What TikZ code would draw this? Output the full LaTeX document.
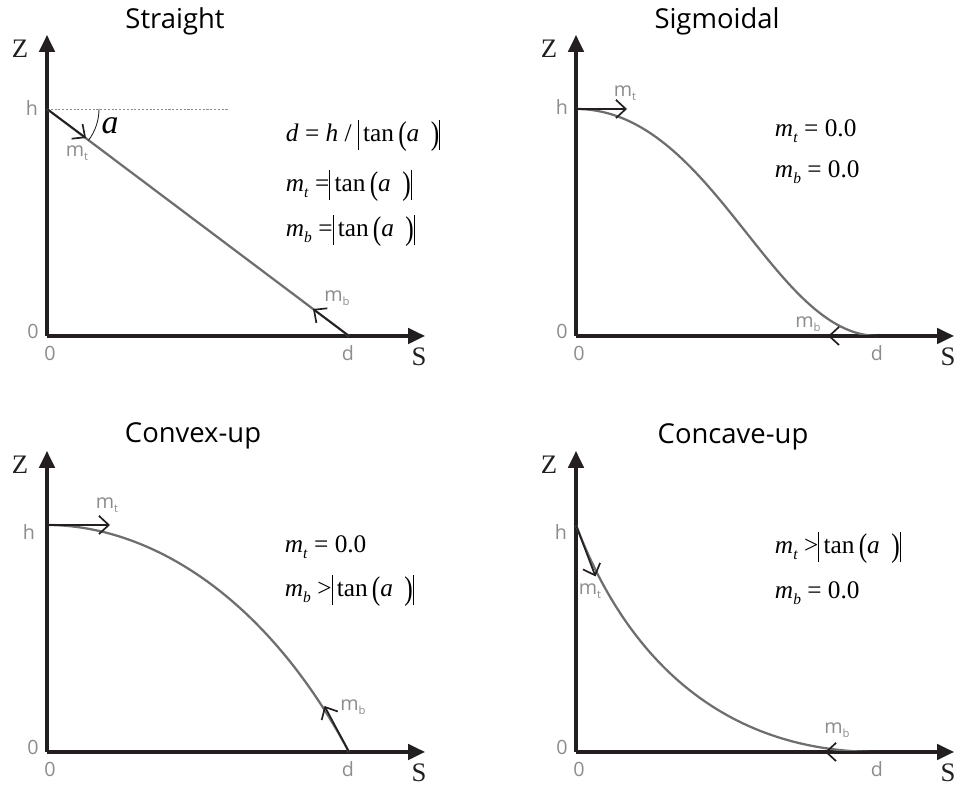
\documentclass[tikz,border=0pt]{standalone}
\usepackage{fontspec}
\usepackage{graphicx}
\setmainfont{Open Sans}
\newfontfamily\eqfont{Liberation Serif}
\usetikzlibrary{arrows.meta}

\definecolor{axiscol}{RGB}{35,31,32}
\definecolor{curvecol}{RGB}{110,110,110}
\definecolor{labelcol}{RGB}{140,140,140}

% 数式用の部品
\newcommand{\absbar}{\rule[-5.5pt]{0.7pt}{21pt}}
\newcommand{\lpar}{\raisebox{-1.5pt}{\scalebox{1}[1.3]{(}}}
\newcommand{\rpar}{\raisebox{-1.5pt}{\scalebox{1}[1.3]{)}}}
\newcommand{\abstan}{\absbar\,tan\,\lpar\textit{a}\hspace{0.45em}\rpar\absbar}
\newcommand{\mvar}[1]{\textit{m}\raisebox{-4pt}{\fontsize{11}{11}\selectfont\textit{#1}}}
\newcommand{\mlab}[1]{m\raisebox{-2.5pt}{\fontsize{8}{8}\selectfont #1}}

\tikzset{
  axis/.style={line width=2.2pt, draw=axiscol, -{Triangle[length=12pt,width=11pt]}},
  curve/.style={line width=1.6pt, draw=curvecol},
  slope/.style={line width=1.2pt, draw=axiscol, -{Straight Barb[length=7pt,width=13pt]}},
  lbl/.style={text=labelcol, font=\fontsize{14}{16}\selectfont},
  axlbl/.style={text=axiscol, font=\eqfont\fontsize{19}{21}\selectfont},
  eq/.style={anchor=base west, font=\eqfont\fontsize{18}{21}\selectfont},
  title/.style={anchor=base, font=\fontsize{19.5}{23}\selectfont}
}

\begin{document}
\begin{tikzpicture}[x=0.025cm, y=0.025cm]
  \useasboundingbox (0,0) rectangle (956,786);
  % 四つのグラフに共通の軸と目盛り (原点の位置)
  \foreach \i/\ox/\oy in {1/47/450, 2/576/450, 3/47/34, 4/576/34} {
    \begin{scope}[shift={(\ox,\oy)}]
      \draw[axis] (0,0) -- (0,301);
      \draw[axis] (0,0) -- (378,0);
      \node[axlbl] (z\i) at (-27,287) {Z};
      \node[axlbl] (s\i) at (372,-21) {S};
      \node[lbl] (zl\i) at (-14,5) {0};
      \node[lbl] (zb\i) at (3,-17) {0};
      \node[lbl] (d\i) at (301,-17) {d};
    \end{scope}
  }

  % 直線型
  \begin{scope}[shift={(47,450)}]
    \node[title] (t1) at (128,307) {Straight};
    \node[lbl] (h1) at (-15,228) {h};
    \draw[labelcol, line width=0.6pt, dash pattern=on 1.5pt off 1.2pt] (0,227) -- (182,227);
    \draw[curve] (0,227) -- (302,0);
    \draw[axiscol, line width=0.6pt] (52,227) arc (0:-37:52);
    \node[font=\eqfont\itshape\fontsize{24}{24}\selectfont] (a1) at (63,210) {a};
    \draw[slope] (0,227) -- (39,198);
    \draw[slope] (302,0) -- (266,27);
    \node[lbl] (mt1) at (30,183) {\mlab{t}};
    \node[lbl] (mb1) at (290,38) {\mlab{b}};
    \node[eq] (e11) at (234,194) {\textit{d} = \textit{h} / \abstan};
    \node[eq] (e12) at (234,144) {\mvar{t} =\abstan};
    \node[eq] (e13) at (234,99) {\mvar{b} =\abstan};
  \end{scope}

  % シグモイド型
  \begin{scope}[shift={(576,450)}]
    \node[title] (t2) at (141,307) {Sigmoidal};
    \node[lbl] (h2) at (-14,229) {h};
    \draw[curve] (0,227) .. controls (136,227) and (196,0) .. (302,0);
    \draw[slope] (0,227) -- (51,227);
    \draw[slope] (302,0) -- (252,0);
    \node[lbl] (mt2) at (49,243) {\mlab{t}};
    \node[lbl] (mb2) at (232,12) {\mlab{b}};
    \node[eq] (e21) at (194,199) {\mvar{t} = 0.0};
    \node[eq] (e22) at (194,158) {\mvar{b} = 0.0};
  \end{scope}

  % 上に凸
  \begin{scope}[shift={(47,34)}]
    \node[title] (t3) at (146,309) {Convex-up};
    \node[lbl] (h3) at (-18,220) {h};
    \draw[curve] (0,227) .. controls (100,227) and (217,159) .. (302,0);
    \draw[slope] (0,227) -- (63,227);
    \draw[slope] (302,0) -- (277.5,46);
    \node[lbl] (mt3) at (60,247) {\mlab{t}};
    \node[lbl] (mb3) at (306,45) {\mlab{b}};
    \node[eq] (e31) at (233,199) {\mvar{t} = 0.0};
    \node[eq] (e32) at (233,155) {\mvar{b} >\abstan};
  \end{scope}

  % 下に凸
  \begin{scope}[shift={(576,34)}]
    \node[title] (t4) at (157,308) {Concave-up};
    \node[lbl] (h4) at (-15,220) {h};
    \draw[curve] (0,227) .. controls (30,148) and (106,0) .. (302,0);
    \draw[slope] (0,227) -- (19.5,175.5);
    \draw[slope] (302,0) -- (249,0);
    \node[lbl] (mt4) at (14,161) {\mlab{t}};
    \node[lbl] (mb4) at (261,22) {\mlab{b}};
    \node[eq] (e41) at (194,198) {\mvar{t} >\abstan};
    \node[eq] (e42) at (194,153) {\mvar{b} = 0.0};
  \end{scope}
\end{tikzpicture}
\end{document}
